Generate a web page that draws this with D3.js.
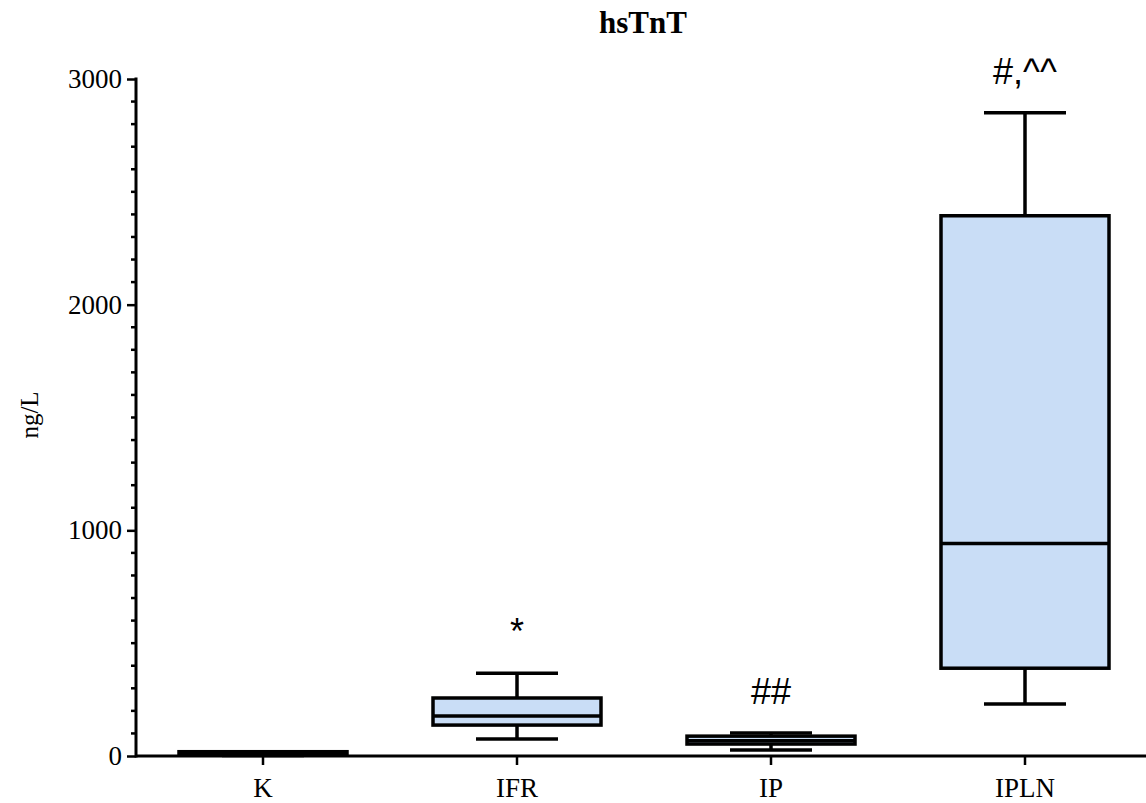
<!DOCTYPE html>
<html>
<head>
<meta charset="utf-8">
<script src="https://cdn.jsdelivr.net/npm/d3@7"></script>
<style>
  html, body { margin: 0; padding: 0; background: #fff; }
  svg { display: block; }
</style>
</head>
<body>
<svg id="chart" width="1146" height="803"></svg>
<script>
// Groups and their box-plot summaries (ng/L)
const categories = ["K", "IFR", "IP", "IPLN"];
const whiskerLow  = [2,   75,  27,  230];
const quartile1   = [4,   137, 53,  389];
const medians     = [9,   177, 68,  942];
const quartile3   = [19,  257, 88,  2394];
const whiskerHigh = [19,  367, 102, 2850];
const annotations = ["", "*", "##", "#,^^"];
const yTicks = [0, 1000, 2000, 3000];

const svg = d3.select("#chart");
const plotLeft = 136, plotBottom = 756, plotTop = 79;

const x = d3.scaleBand().domain(categories).range([plotLeft, 1152]).paddingInner(0).paddingOuter(0);
const y = d3.scaleLinear().domain([0, 3000]).range([plotBottom, plotTop]);

const serif = "'Liberation Serif', 'Times New Roman', serif";
const sans = "'Liberation Sans', Arial, sans-serif";
const lw = 3.5;

// Title
svg.append("text")
  .attr("x", 643).attr("y", 33)
  .attr("text-anchor", "middle")
  .attr("font-family", serif).attr("font-weight", "bold").attr("font-size", 31)
  .text("hsTnT");

// Y axis title
svg.append("text")
  .attr("transform", `translate(38, 415) rotate(-90)`)
  .attr("text-anchor", "middle")
  .attr("font-family", serif).attr("font-size", 25)
  .text("ng/L");

// Minor ticks every 100
const minor = d3.range(0, 3001, 100).filter(v => v % 1000 !== 0);
svg.append("g").selectAll("line").data(minor).join("line")
  .attr("x1", plotLeft - 5).attr("x2", plotLeft)
  .attr("y1", d => y(d)).attr("y2", d => y(d))
  .attr("stroke", "#000").attr("stroke-width", 2.5);

// Y axis with major ticks
const yAxis = svg.append("g")
  .attr("transform", `translate(${plotLeft},0)`)
  .call(d3.axisLeft(y).tickValues(yTicks).tickSize(9).tickPadding(5).tickFormat(d3.format("d")));
yAxis.select(".domain").attr("stroke-width", 3).attr("d", `M0,${plotBottom + 1.5}V${plotTop - 1.5}`);
yAxis.selectAll(".tick line").attr("stroke-width", 2.5);
yAxis.selectAll(".tick text")
  .attr("font-family", serif).attr("font-size", 27).attr("fill", "#000");

// X axis
const xAxis = svg.append("g")
  .attr("transform", `translate(0,${plotBottom})`)
  .call(d3.axisBottom(x).tickSize(9).tickPadding(13));
xAxis.select(".domain").attr("stroke-width", 3).attr("d", `M${plotLeft},0H1152`);
xAxis.selectAll(".tick line").attr("stroke-width", 2.5);
xAxis.selectAll(".tick text")
  .attr("font-family", serif).attr("font-size", 27).attr("fill", "#000");

// Box plots
const boxW = 168, capW = 82;
const stats = categories.map((c, i) => ({
  c, lo: whiskerLow[i], q1: quartile1[i], med: medians[i], q3: quartile3[i], hi: whiskerHigh[i], note: annotations[i]
}));

const g = svg.append("g").selectAll("g").data(stats).join("g")
  .attr("transform", d => `translate(${x(d.c) + x.bandwidth() / 2},0)`);

// Whiskers
g.append("line").attr("x1", 0).attr("x2", 0)
  .attr("y1", d => y(d.hi)).attr("y2", d => y(d.q3))
  .attr("stroke", "#000").attr("stroke-width", lw);
g.append("line").attr("x1", 0).attr("x2", 0)
  .attr("y1", d => y(d.q1)).attr("y2", d => y(d.lo))
  .attr("stroke", "#000").attr("stroke-width", lw);
g.append("line").attr("x1", -capW / 2).attr("x2", capW / 2)
  .attr("y1", d => y(d.hi)).attr("y2", d => y(d.hi))
  .attr("stroke", "#000").attr("stroke-width", lw);
g.append("line").attr("x1", -capW / 2).attr("x2", capW / 2)
  .attr("y1", d => y(d.lo)).attr("y2", d => y(d.lo))
  .attr("stroke", "#000").attr("stroke-width", lw);

// Boxes
g.append("rect")
  .attr("x", -boxW / 2).attr("width", boxW)
  .attr("y", d => y(d.q3)).attr("height", d => y(d.q1) - y(d.q3))
  .attr("fill", "#c9ddf6").attr("stroke", "#000").attr("stroke-width", lw);

// Medians
g.append("line").attr("x1", -boxW / 2).attr("x2", boxW / 2)
  .attr("y1", d => y(d.med)).attr("y2", d => y(d.med))
  .attr("stroke", "#000").attr("stroke-width", lw);

// Significance marks
g.append("text")
  .attr("y", d => y(d.hi) - 29)
  .attr("text-anchor", "middle")
  .attr("font-family", sans).attr("font-size", 36)
  .text(d => d.note);
</script>
</body>
</html>
